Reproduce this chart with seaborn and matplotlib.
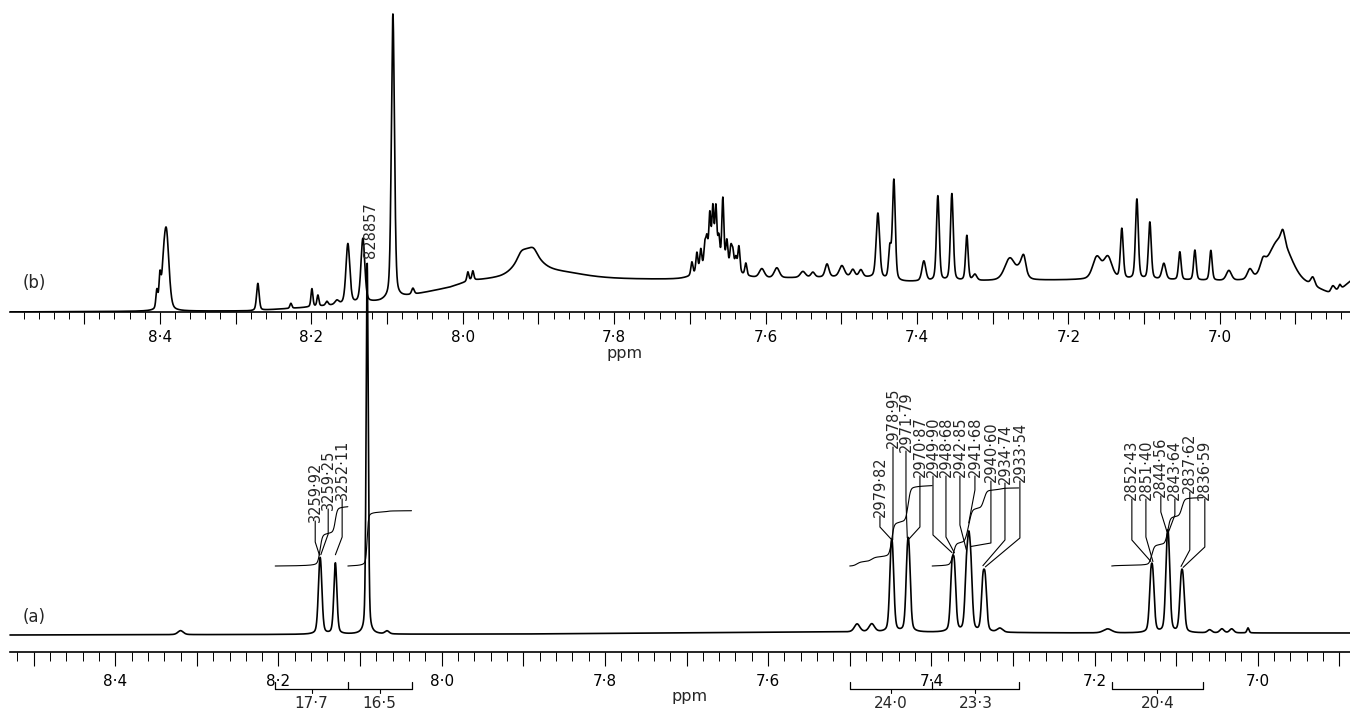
import numpy as np
import pandas as pd
import seaborn as sns
import matplotlib
matplotlib.use("Agg")
import matplotlib.pyplot as plt
from matplotlib.ticker import MultipleLocator, FuncFormatter

# ---- spectrum (b): peak table (ppm, height, half width) ----
top_ppm = [
    8.404, 8.400, 8.3954, 8.3914,
    8.2706, 8.2270, 8.1992, 8.1913, 8.1794, 8.1662,
    8.1517, 8.1319, 8.0922, 8.0658,
    7.9932, 7.9866, 7.9232, 7.9139, 7.9060, 7.8981,
    7.6630, 7.6973, 7.6907, 7.6855, 7.6802, 7.6775, 7.6736, 7.6696, 7.6656,
    7.6617, 7.6564, 7.6511, 7.6458, 7.6432, 7.6392, 7.6352, 7.6260,
    7.6049, 7.5851, 7.5507, 7.5375, 7.5188, 7.4992, 7.4847, 7.4741,
    7.4516, 7.4358, 7.4305, 7.3909, 7.3724, 7.3539, 7.3341, 7.3235,
    7.2773, 7.2615, 7.2588,
    7.1624, 7.1479, 7.1294, 7.1095, 7.0924, 7.0739, 7.0528, 7.0329, 7.0118, 6.9880, 6.9603,
    6.9431, 6.9207, 6.9167, 6.8771, 6.8507, 6.8414,
]
top_height = [
    18, 28, 22, 76,
    27, 5, 18, 11, 4, 4,
    60, 64, 285, 6,
    9, 9, 4, 22, 4, 10,
    14, 13, 20, 21, 22, 26, 50, 55, 55,
    25, 66, 25, 20, 17, 13, 26, 12,
    9, 10, 6, 5, 13, 11, 7, 7,
    65, 30, 100, 20, 85, 87, 45, 6,
    22, 14, 12,
    22, 22, 50, 80, 57, 16, 28, 30, 30, 10, 10,
    10, 45, 12, 8, 6, 5,
]
top_width = [
    0.0015, 0.0015, 0.003, 0.004,
    0.002, 0.0015, 0.0015, 0.0015, 0.002, 0.003,
    0.003, 0.003, 0.0024, 0.002,
    0.0015, 0.0015, 0.005, 0.016, 0.005, 0.05,
    0.024, 0.0016, 0.0016, 0.0016, 0.0016, 0.0016, 0.0016, 0.0016, 0.0016,
    0.0016, 0.0016, 0.0016, 0.0016, 0.0016, 0.0016, 0.0016, 0.0016,
    0.004, 0.004, 0.004, 0.003, 0.003, 0.004, 0.003, 0.003,
    0.0027, 0.002, 0.0022, 0.003, 0.0022, 0.0022, 0.002, 0.003,
    0.008, 0.006, 0.003,
    0.0065, 0.0065, 0.0022, 0.0022, 0.0022, 0.003, 0.002, 0.002, 0.002, 0.004, 0.004,
    0.004, 0.018, 0.003, 0.003, 0.003, 0.002,
]
top_base_ppm = [8.598, 8.28, 8.215, 8.162, 8.109, 8.083, 8.017, 7.99, 7.95, 7.85, 7.713, 7.608,
                7.489, 7.46, 7.423, 7.30, 7.185, 7.08, 6.973, 6.88, 6.855, 6.84, 6.828]
top_base_lvl = [0, 1, 4, 7, 10, 14, 24, 30, 30, 33, 32, 33, 35, 34, 30, 31, 32, 32, 30, 25, 18, 22, 30]

# ---- spectrum (a) ----
bot_ppm = [
    8.3200, 8.0670,
    8.1498, 8.1481, 8.1303, 8.0913,
    7.4910, 7.4730,
    7.4496, 7.4474, 7.4295, 7.4272, 7.3748, 7.3717, 7.3571, 7.3542, 7.3515, 7.3369, 7.3339, 7.3160,
    7.1840, 7.1311, 7.1285, 7.1114, 7.1091, 7.0941, 7.0915, 7.0590, 7.0440, 7.0320, 7.0120,
]
bot_height = [
    4, 3,
    43, 43, 71, 371,
    8, 8,
    56, 56, 58, 58, 55, 55, 50, 66, 50, 44, 44, 4,
    4, 45, 45, 63, 63, 41, 41, 3, 4, 4, 5,
]
bot_width = [
    0.004, 0.003,
    0.0022, 0.0022, 0.0022, 0.0015,
    0.004, 0.004,
    0.0022, 0.0022, 0.0022, 0.0022, 0.0022, 0.0022, 0.0022, 0.0022, 0.0022, 0.0022, 0.0022, 0.004,
    0.006, 0.0022, 0.0022, 0.0022, 0.0022, 0.0022, 0.0022, 0.003, 0.003, 0.003, 0.0015,
]
bot_base_ppm = [8.529, 7.9, 7.55, 7.2, 6.887]
bot_base_lvl = [17, 18, 20, 19, 19]

# line labels (Hz, 400 MHz) and integrals
SPEC_MHZ = 400.0
line_labels = [
    ["3259·92", "3259·25", "3252·11"],
    ["2979·82", "2978·95", "2971·79", "2970·87", "2949·90", "2948·68",
     "2942·85", "2941·68", "2940·60", "2934·74", "2933·54"],
    ["2852·43", "2851·40", "2844·56", "2843·64", "2837·62", "2836·59"],
]
integral_edges = [[8.204, 8.115, 8.037], [7.500, 7.399, 7.293], [7.179, 7.067]]
integral_values = [[17.7, 16.5], [24.0, 23.3], [20.4]]
top_marker = "828857"

# ---- layout (1 data unit = 1 px in y) ----
W, H = 1350, 711
label_x = [
    [8.1550, 8.1391, 8.1220],
    [7.4630, 7.4470, 7.4311, 7.4140, 7.3980, 7.3821, 7.3650, 7.3466, 7.3270, 7.3098, 7.2915],
    [7.1543, 7.1371, 7.1188, 7.1016, 7.0833, 7.0649],
]
label_bottom = [
    [130, 142, 152],
    [135, 204, 200, 175, 175, 175, 175, 175, 170, 168, 170],
    [152, 152, 155, 152, 159, 152],
]
label_kink = [
    [110, 118, 115],
    [125, 124, 152, 125, 117, 115, 127, 162, 109, 112, 114],
    [112, 115, 140, 137, 102, 105],
]
INT_START = 86
INT_SCALE = 3.35


def lineshape(x, pos, hgt, wid, eta=0.35):
    y = np.zeros_like(x)
    for p, h, w in zip(pos, hgt, wid):
        r2 = ((x - p) / w) ** 2
        y += h * (eta / (1 + r2) + (1 - eta) * np.exp(-np.log(2) * r2))
    return y


def spec_top(x):
    return np.interp(x, top_base_ppm[::-1], top_base_lvl[::-1]) + lineshape(x, top_ppm, top_height, top_width)


def peaks_bot(x):
    return lineshape(x, bot_ppm, bot_height, bot_width)


def spec_bot(x):
    return np.interp(x, bot_base_ppm[::-1], bot_base_lvl[::-1]) + peaks_bot(x)


sns.set_theme(style="white")
plt.rcParams["font.family"] = ["DejaVu Sans"]

fig = plt.figure(figsize=(W / 100, H / 100), dpi=100)
fig.patch.set_facecolor("white")
ax_b = fig.add_axes([10 / W, 1 - 312 / H, 1340 / W, 312 / H])
ax_a = fig.add_axes([10 / W, 1 - 652 / H, 1340 / W, 312 / H])


def fmt(v, pos):
    k = int(round(v * 10))
    return f"{k / 10:.1f}".replace(".", "·") if k % 2 == 0 else ""


grid_b = np.linspace(8.598, 6.828, 14000)
grid_a = np.linspace(8.529, 6.887, 14000)
df_b = pd.DataFrame({"ppm": grid_b, "intensity": spec_top(grid_b)})
df_a = pd.DataFrame({"ppm": grid_a, "intensity": spec_bot(grid_a)})

sns.lineplot(data=df_b, x="ppm", y="intensity", ax=ax_b, color="black",
             linewidth=1.2, estimator=None, sort=False)
sns.lineplot(data=df_a, x="ppm", y="intensity", ax=ax_a, color="black",
             linewidth=1.2, estimator=None, sort=False, clip_on=False)

for ax, lim, majlen, minlen, pad in [(ax_b, (8.598, 6.828), 8.6, 5.0, 4.3),
                                     (ax_a, (8.529, 6.887), 10.0, 6.5, 5.6)]:
    ax.set_xlim(*lim)
    ax.set_ylim(0, 312)
    ax.set_facecolor("none")
    sns.despine(ax=ax, left=True, top=True, right=True)
    ax.spines["bottom"].set_color("black")
    ax.spines["bottom"].set_linewidth(1.2)
    ax.xaxis.set_major_locator(MultipleLocator(0.1))
    ax.xaxis.set_minor_locator(MultipleLocator(0.02))
    ax.xaxis.set_major_formatter(FuncFormatter(fmt))
    ax.tick_params(axis="x", which="major", bottom=True, direction="out", length=majlen,
                   width=0.8, color="black", pad=pad, labelsize=11, labelcolor="black")
    ax.tick_params(axis="x", which="minor", bottom=True, direction="out", length=minlen,
                   width=0.7, color="black")
    ax.tick_params(axis="y", left=False, labelleft=False)
    ax.set_xlabel("")
    ax.set_ylabel("")

# integrals and brackets on (a)
for edges, vals in zip(integral_edges, integral_values):
    for (e0, e1), v in zip(zip(edges[:-1], edges[1:]), vals):
        g = np.linspace(e0, e1, 600)
        c = np.cumsum(peaks_bot(g))
        ax_a.plot(g, INT_START + v * INT_SCALE * c / c[-1], color="black", lw=0.8, clip_on=False)
        mid = (e0 + e1) / 2
        ax_a.plot([mid, mid], [-37, -41], color="black", lw=0.8, clip_on=False)
        ax_a.text(mid, -52, f"{v:.1f}".replace(".", "·"), ha="center", va="center", fontsize=11)
    ax_a.plot([edges[0], edges[-1]], [-37, -37], color="black", lw=0.9, clip_on=False)
    for e in edges:
        ax_a.plot([e, e], [-37, -30], color="black", lw=0.9, clip_on=False)

# line labels with leader lines
for labs, xs, bots, kinks in zip(line_labels, label_x, label_bottom, label_kink):
    for lab, lx, lb, lk in zip(labs, xs, bots, kinks):
        tx = float(lab.replace("·", ".")) / SPEC_MHZ
        ty = min(float(spec_bot(np.array([tx]))[0]) + 8, lk - 2)
        ax_a.text(lx, lb, lab, rotation=90, ha="center", va="bottom", fontsize=10.5,
                  clip_on=False)
        ax_a.plot([lx, lx, tx], [lb + 1, lk, ty], color="black", lw=0.8, clip_on=False)

ax_b.text(8.1213, 54, top_marker, rotation=90, ha="center", va="bottom", fontsize=10.5)


def px(x, y):
    return x / W, 1 - y / H


fig.text(*px(34, 283), "(b)", ha="center", va="center", fontsize=12)
fig.text(*px(34, 617), "(a)", ha="center", va="center", fontsize=12)
fig.text(*px(625, 353), "ppm", ha="center", va="center", fontsize=11.5)
fig.text(*px(690, 697), "ppm", ha="center", va="center", fontsize=11.5)

fig.savefig("out.png", dpi=100, facecolor="white")
